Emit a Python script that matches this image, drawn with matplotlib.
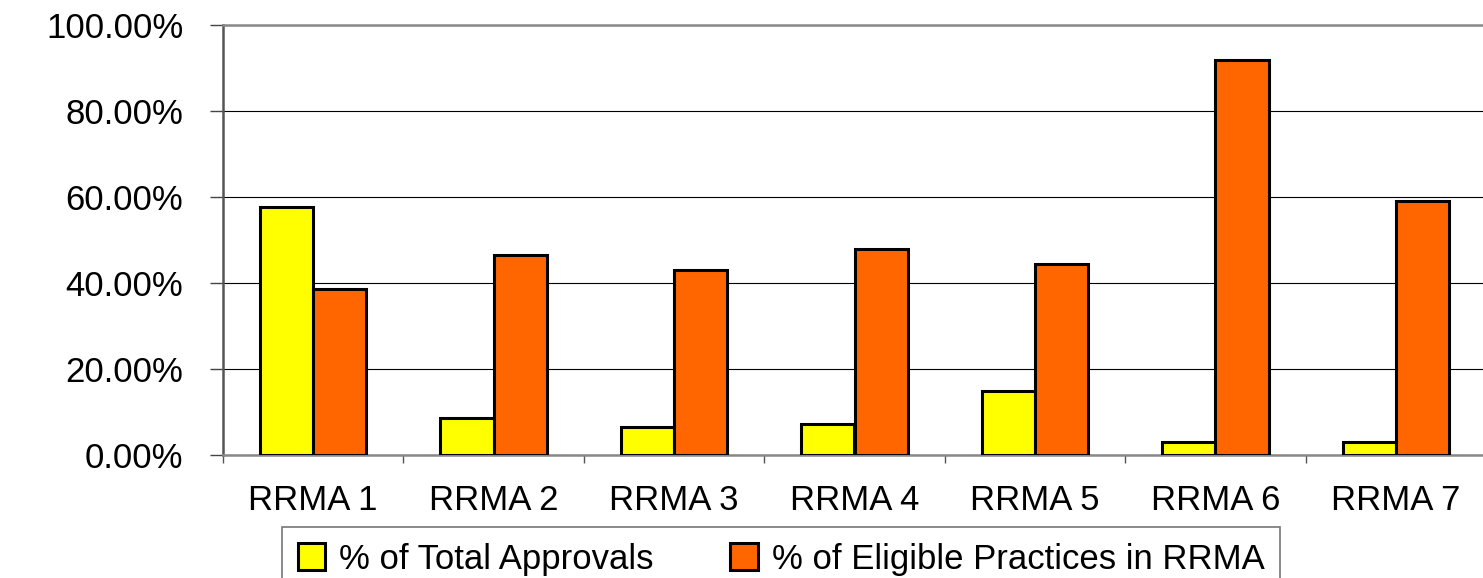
import matplotlib
matplotlib.use("Agg")
import matplotlib.pyplot as plt
from matplotlib.ticker import FixedLocator, FuncFormatter
import numpy as np

categories = ["RRMA 1", "RRMA 2", "RRMA 3", "RRMA 4", "RRMA 5", "RRMA 6", "RRMA 7"]
total_approvals = [57.7, 8.6, 6.5, 7.2, 14.9, 3.0, 3.0]
eligible_practices = [38.6, 46.5, 43.0, 47.9, 44.4, 91.9, 59.1]
series_names = ["% of Total Approvals", "% of Eligible Practices in RRMA"]
yticks = [0, 20, 40, 60, 80, 100]

plt.rcParams['font.family'] = ['Liberation Sans', 'DejaVu Sans']

W, H = 1483, 578
fig = plt.figure(figsize=(W / 100, H / 100), dpi=100)
left, right, top, bottom = 223, 1486, 25, 455
ax = fig.add_axes([left / W, 1 - bottom / H, (right - left) / W, (bottom - top) / H])

x = np.arange(len(categories))
bw = 0.295
ax.bar(x - bw / 2, total_approvals, bw, color="#FFFF00", edgecolor="black", linewidth=2.2,
       label=series_names[0], zorder=3)
ax.bar(x + bw / 2, eligible_practices, bw, color="#FF6600", edgecolor="black", linewidth=2.2,
       label=series_names[1], zorder=3)

ax.set_xlim(-0.5, len(categories) - 0.5)
ax.set_ylim(0, 100)

ax.set_yticks(yticks)
ax.yaxis.set_major_formatter(FuncFormatter(lambda v, p: f"{v:.2f}%"))
ax.tick_params(axis='y', length=9.5, width=1, color='#444444', pad=19, labelsize=25)
ax.grid(axis='y', color='black', linewidth=0.8, zorder=0)

ax.xaxis.set_major_locator(FixedLocator(np.arange(-0.5, len(categories) + 0.5, 1.0)))
ax.xaxis.set_major_formatter(FuncFormatter(lambda v, p: ""))
ax.xaxis.set_minor_locator(FixedLocator(x))
ax.set_xticklabels(categories, minor=True)
ax.tick_params(axis='x', which='major', length=6, width=1, color='#555555', direction='out')
ax.tick_params(axis='x', which='minor', length=0, pad=21, labelsize=25)

for s in ['top', 'bottom']:
    ax.spines[s].set_color('#888888')
    ax.spines[s].set_linewidth(1.8)
ax.spines['left'].set_color('#555555')
ax.spines['left'].set_linewidth(1.8)
ax.spines['right'].set_visible(False)

leg = fig.legend(loc='upper left', bbox_to_anchor=(282 / W, 1 - 527 / H), ncol=2,
                 fontsize=25, frameon=True, fancybox=False, edgecolor='#555555',
                 handlelength=0.8, handleheight=0.8, handletextpad=0.4,
                 columnspacing=2.2, borderpad=0.45, borderaxespad=0)
leg.get_frame().set_linewidth(1.2)

fig.savefig("out.png", dpi=100)
